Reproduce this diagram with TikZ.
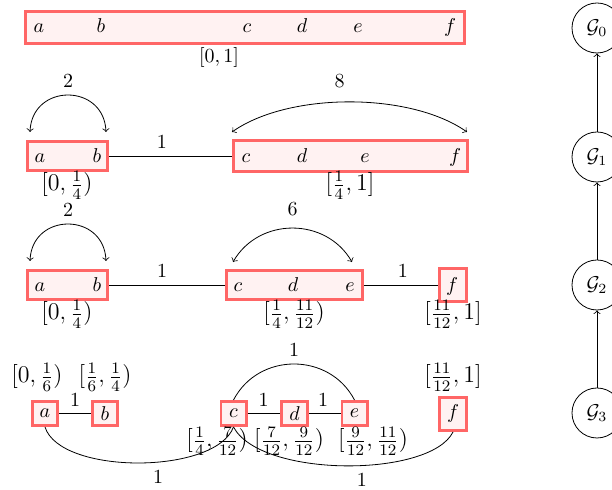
\documentclass[tikz,border=0pt]{standalone}
\begin{document}
\begin{tikzpicture}[x=0.5pt,y=0.5pt,
  grp/.style={draw=red!60, fill=red!5, line width=1.4pt, rectangle, inner sep=0pt},
  lt/.style={inner sep=0pt, anchor=base},
  iv/.style={inner sep=0pt, anchor=base},
  fv/.style={inner sep=0pt, anchor=base, font=\large},
  gn/.style={circle, draw, minimum size=25pt, inner sep=0pt}]
\useasboundingbox (0,0) rectangle (612,-490);

% ---------- row 1
\node[grp, minimum width=219.6pt, minimum height=16.1pt] (r1) at (245,-27.5) {};
\node[lt] (t1a) at (39,-33) {$a$};
\node[lt] (t1b) at (101,-33) {$b$};
\node[lt] (t1c) at (247,-33) {$c$};
\node[lt] (t1d) at (302,-33) {$d$};
\node[lt] (t1e) at (358,-33) {$e$};
\node[lt] (t1f) at (450,-33) {$f$};
\node[iv] (l1) at (219,-63) {$[0,1]$};

% ---------- row 2
\node[grp, minimum width=40.1pt, minimum height=14.6pt] (r2ab) at (67.5,-156) {};
\node[grp, minimum width=117.1pt, minimum height=15.6pt] (r2cf) at (350.5,-156) {};
\node[lt] (t2a) at (40,-163) {$a$};
\node[lt] (t2b) at (97,-163) {$b$};
\node[lt] (t2c) at (246,-163) {$c$};
\node[lt] (t2d) at (302,-163) {$d$};
\node[lt] (t2e) at (365,-163) {$e$};
\node[lt] (t2f) at (455,-163) {$f$};
\node[fv] (l2ab) at (67,-191) {$[0,\frac{1}{4})$};
\node[fv] (l2cf) at (350,-191) {$[\frac{1}{4},1]$};
\draw (r2ab) -- (r2cf) node[pos=.43, above] {1};
\coordinate (r2abL) at ([shift={(4,8)}]r2ab.north west);
\coordinate (r2abR) at ([shift={(-3,8)}]r2ab.north east);
\draw[<->] (r2abL) .. controls +(2,49) and +(-2,49) .. (r2abR) node[pos=.5, above=0.5pt] {2};
\coordinate (r2cfL) at ([shift={(0,7)}]r2cf.north west);
\coordinate (r2cfR) at ([shift={(-2,7)}]r2cf.north east);
\draw[<->] (r2cfL) .. controls +(57,40) and +(-57,40) .. (r2cfR) node[pos=.5, above=3.4pt, xshift=-5pt] {8};

% ---------- row 3
\node[grp, minimum width=40.1pt, minimum height=14.6pt] (r3ab) at (67.5,-285) {};
\node[grp, minimum width=68.1pt, minimum height=14.6pt] (r3ce) at (294.5,-285) {};
\node[grp, minimum width=13.6pt, minimum height=16.6pt] (r3f) at (453,-285) {};
\node[lt] (t3a) at (40,-292) {$a$};
\node[lt] (t3b) at (97,-292) {$b$};
\node[lt] (t3c) at (238,-292) {$c$};
\node[lt] (t3d) at (293,-292) {$d$};
\node[lt] (t3e) at (350,-292) {$e$};
\node[lt] (t3f) at (452,-292) {$f$};
\node[fv] (l3ab) at (67,-320) {$[0,\frac{1}{4})$};
\node[fv] (l3ce) at (294,-320) {$[\frac{1}{4},\frac{11}{12})$};
\node[fv] (l3f) at (453,-320) {$[\frac{11}{12},1]$};
\draw (r3ab) -- (r3ce) node[pos=.457, above] {1};
\draw (r3ce) -- (r3f) node[pos=.527, above] {1};
\coordinate (r3abL) at ([shift={(4,8)}]r3ab.north west);
\coordinate (r3abR) at ([shift={(-3,8)}]r3ab.north east);
\draw[<->] (r3abL) .. controls +(2,49) and +(-2,49) .. (r3abR) node[pos=.5, above=0.5pt] {2};
\coordinate (r3ceL) at ([shift={(8,7)}]r3ce.north west);
\coordinate (r3ceR) at ([shift={(-12,7)}]r3ce.north east);
\draw[<->] (r3ceL) .. controls +(26,45) and +(-26,45) .. (r3ceR) node[pos=.5, above=2.4pt] {6};

% ---------- row 4
\node[grp, minimum width=12.6pt, minimum height=12.1pt] (a4) at (45,-413.5) {$a$};
\node[grp, minimum width=12.6pt, minimum height=12.1pt] (b4) at (105,-413.5) {$b$};
\node[grp, minimum width=12.6pt, minimum height=12.1pt] (c4) at (233.5,-413.5) {$c$};
\node[grp, minimum width=13.2pt, minimum height=12.1pt] (d4) at (294.5,-413.5) {$d$};
\node[grp, minimum width=12.6pt, minimum height=12.1pt] (e4) at (354.5,-413.5) {$e$};
\node[grp, minimum width=13.6pt, minimum height=16.6pt] (f4) at (453,-414) {$f$};
\node[fv] (l4a) at (37,-383) {$[0,\frac{1}{6})$};
\node[fv] (l4b) at (105,-383) {$[\frac{1}{6},\frac{1}{4})$};
\node[fv] (l4f) at (453,-383) {$[\frac{11}{12},1]$};
\node[fv] (l4c) at (217,-447) {$[\frac{1}{4},\frac{7}{12})$};
\node[fv] (l4d) at (289,-447) {$[\frac{7}{12},\frac{9}{12})$};
\node[fv] (l4e) at (373,-447) {$[\frac{9}{12},\frac{11}{12})$};
\draw (a4) -- (b4) node[midway, above] {1};
\draw (c4) -- (d4) node[midway, above] {1};
\draw (d4) -- (e4) node[pos=.45, above] {1};
\draw (c4.north) .. controls +(25,48) and +(-25,48) .. (e4.north) node[pos=.5, above] {1};
\draw (a4.south) .. controls +(15,-48) and +(-18,-48) .. (c4.south) node[pos=.5, below, xshift=10pt] {1};
\draw (c4.south) .. controls +(27,-51) and +(-23,-46) .. (f4.south) node[pos=.5, below, xshift=8.5pt] {1};

% ---------- hierarchy
\node[gn] (G0) at (597,-28) {$\mathcal{G}_0$};
\node[gn] (G1) at (597,-157) {$\mathcal{G}_1$};
\node[gn] (G2) at (597,-285) {$\mathcal{G}_2$};
\node[gn] (G3) at (597,-413) {$\mathcal{G}_3$};
\draw[->] (G1) -- (G0);
\draw[->] (G2) -- (G1);
\draw[->] (G3) -- (G2);
\end{tikzpicture}
\end{document}
